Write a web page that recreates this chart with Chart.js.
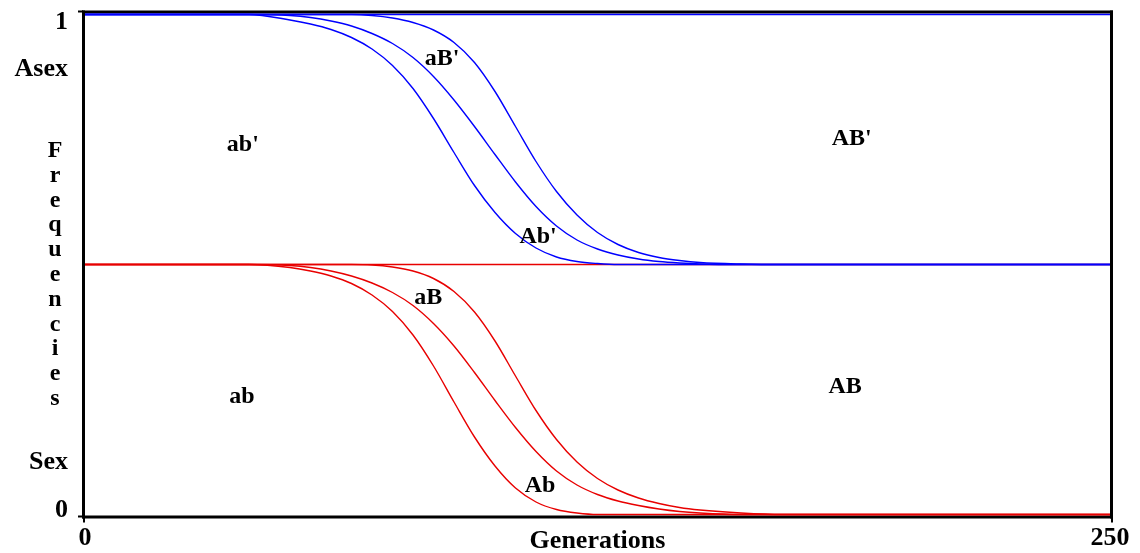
<!DOCTYPE html>
<html>
<head>
<meta charset="utf-8">
<script src="https://cdn.jsdelivr.net/npm/chart.js@4.4.1/dist/chart.umd.min.js"></script>
<style>
  html, body { margin: 0; padding: 0; background: #fff; }
  #wrap { width: 1140px; height: 553px; position: relative; }
</style>
</head>
<body>
<div id="wrap"><canvas id="myChart"></canvas></div>
<script>
// generations sampled along the x axis
const gens = [0, 30, 40, 50, 55, 60, 65, 70, 75, 80, 85, 90, 95, 100, 105, 110, 115, 120, 125, 130, 135, 140, 145, 150, 160, 170, 250];

// asexual half (stacked between 0.5 and 1)
const asexLow  = [1, 1, 1, 0.989, 0.981, 0.970, 0.954, 0.931, 0.898, 0.852, 0.792, 0.724, 0.658, 0.604, 0.562, 0.533, 0.515, 0.506, 0.502, 0.5, 0.5, 0.5, 0.5, 0.5, 0.5, 0.5, 0.5];
const asexMid  = [1, 1, 1, 0.998, 0.994, 0.987, 0.977, 0.962, 0.942, 0.914, 0.876, 0.829, 0.776, 0.720, 0.665, 0.616, 0.577, 0.549, 0.531, 0.519, 0.511, 0.506, 0.503, 0.501, 0.5, 0.5, 0.5];
const asexHigh = [1, 1, 1, 1, 1, 1, 1, 0.998, 0.993, 0.984, 0.969, 0.944, 0.904, 0.846, 0.776, 0.706, 0.646, 0.599, 0.564, 0.540, 0.524, 0.514, 0.508, 0.504, 0.501, 0.5, 0.5];

// sexual half (stacked between 0 and 0.5)
const sexLow  = [0.5, 0.5, 0.5, 0.494, 0.487, 0.477, 0.462, 0.439, 0.406, 0.359, 0.297, 0.225, 0.155, 0.097, 0.053, 0.025, 0.010, 0.003, 0, 0, 0, 0, 0, 0, 0, 0, 0];
const sexMid  = [0.5, 0.5, 0.5, 0.498, 0.494, 0.487, 0.477, 0.463, 0.444, 0.418, 0.382, 0.337, 0.284, 0.228, 0.174, 0.126, 0.087, 0.059, 0.040, 0.027, 0.018, 0.011, 0.006, 0.003, 0, 0, 0];
const sexHigh = [0.5, 0.5, 0.5, 0.5, 0.5, 0.5, 0.5, 0.499, 0.495, 0.487, 0.472, 0.446, 0.405, 0.347, 0.277, 0.208, 0.150, 0.105, 0.072, 0.049, 0.033, 0.022, 0.014, 0.009, 0.003, 0, 0];

// boundary lines (total = 1, sex/asex split = 0.5)
const edgeGens = [0, 250];
const totalLine = [1, 1];
const splitLine = [0.5, 0.5];

// genotype labels placed in data coordinates (x = generation, y = baseline)
const regionLabels = [
  { text: "ab'", g: 38.5, v: 0.727 },
  { text: "AB'", g: 187, v: 0.739 },
  { text: "aB'", g: 87.1, v: 0.899 },
  { text: "Ab'", g: 110.5, v: 0.543 },
  { text: "ab", g: 38.3, v: 0.223 },
  { text: "AB", g: 185.4, v: 0.243 },
  { text: "aB", g: 83.7, v: 0.421 },
  { text: "Ab", g: 111, v: 0.045 }
];

// y side labels (value = baseline position)
const sideLabels = [
  { text: "1", v: 0.971 },
  { text: "Asex", v: 0.877 },
  { text: "Sex", v: 0.091 },
  { text: "0", v: -0.005 }
];
const xTickLabels = [{ text: "0", g: 0 }, { text: "250", g: 250 }];
const xTitle = "Generations";
const yTitle = "Frequencies";

const BLUE = "#0000ff";
const RED = "#e80000";
const FONT = '"Liberation Serif", "Times New Roman", serif';

function toPoints(xs, ys) {
  return xs.map((x, i) => ({ x: x, y: ys[i] }));
}

function lineSet(xs, ys, color) {
  return {
    data: toPoints(xs, ys),
    borderColor: color,
    borderWidth: 1.4,
    pointRadius: 0,
    cubicInterpolationMode: "monotone",
    fill: false,
    clip: false
  };
}

/**
 * desenha a moldura preta e os pequenos tracos dos eixos
 */
const framePlugin = {
  id: "frame",
  beforeDatasetsDraw(chart) {
    const { ctx, chartArea: a } = chart;
    ctx.save();
    ctx.fillStyle = "#000";
    ctx.fillRect(a.left - 3, a.top - 4, a.right - a.left + 6, 3);   // top
    ctx.fillRect(a.left - 3, a.bottom + 1, a.right - a.left + 6, 3); // bottom
    ctx.fillRect(a.left - 3, a.top - 4, 3, a.bottom - a.top + 8);    // left
    ctx.fillRect(a.right, a.top - 4, 3, a.bottom - a.top + 8);       // right
    // tick marks
    ctx.fillRect(a.left - 7, a.top - 4, 5, 2);
    ctx.fillRect(a.left - 7, a.bottom + 1, 5, 2);
    ctx.fillRect(a.left - 2, a.bottom + 2, 2, 6);
    ctx.fillRect(a.right + 1, a.bottom + 2, 2, 6);
    ctx.restore();
  }
};

/**
 * escreve os textos (rotulos das regioes e dos eixos)
 */
const textPlugin = {
  id: "texts",
  afterDraw(chart) {
    const { ctx, chartArea: a } = chart;
    const xs = chart.scales.x;
    const ys = chart.scales.y;
    ctx.save();
    ctx.fillStyle = "#000";
    ctx.textBaseline = "alphabetic";

    ctx.font = "bold 24px " + FONT;
    ctx.textAlign = "center";
    regionLabels.forEach((l) => {
      ctx.fillText(l.text, xs.getPixelForValue(l.g), ys.getPixelForValue(l.v));
    });

    ctx.font = "bold 26px " + FONT;
    ctx.textAlign = "right";
    sideLabels.forEach((l) => {
      ctx.fillText(l.text, a.left - 17, ys.getPixelForValue(l.v));
    });

    ctx.textAlign = "center";
    xTickLabels.forEach((l) => {
      ctx.fillText(l.text, xs.getPixelForValue(l.g), a.bottom + 30);
    });
    ctx.fillText(xTitle, (a.left + a.right) / 2, a.bottom + 33);

    // vertical title, one letter per line
    ctx.font = "bold 24px " + FONT;
    const letters = yTitle.split("");
    letters.forEach((ch, i) => {
      ctx.fillText(ch, a.left - 30, 157 + i * 24.8);
    });
    ctx.restore();
  }
};

const ctx = document.getElementById("myChart");

new Chart(ctx, {
  type: "line",
  data: {
    datasets: [
      lineSet(edgeGens, totalLine, BLUE),
      lineSet(gens, asexLow, BLUE),
      lineSet(gens, asexMid, BLUE),
      lineSet(gens, asexHigh, BLUE),
      lineSet(edgeGens, splitLine, RED),
      lineSet(gens, sexLow, RED),
      lineSet(gens, sexMid, RED),
      lineSet(gens, sexHigh, RED)
    ]
  },
  options: {
    responsive: true,
    maintainAspectRatio: false,
    animation: false,
    events: [],
    layout: { padding: { left: 85, top: 14.5, right: 30, bottom: 38.5 } },
    plugins: { legend: { display: false }, tooltip: { enabled: false } },
    scales: {
      x: { type: "linear", min: 0, max: 250, display: false },
      y: { type: "linear", min: 0, max: 1, display: false }
    }
  },
  plugins: [framePlugin, textPlugin]
});
</script>
</body>
</html>
